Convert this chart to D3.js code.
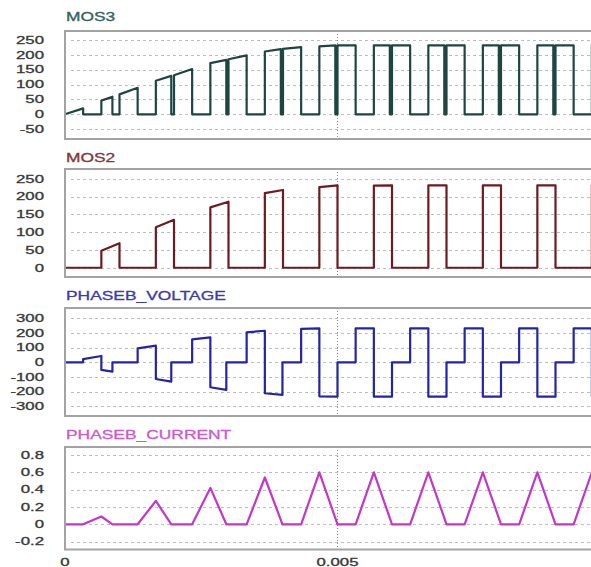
<!DOCTYPE html>
<meta charset="utf-8">
<style>
body { margin: 0; background: #fff; }
svg { display: block; }
.grid line { stroke: #bdbdbd; stroke-dasharray: 3,3; shape-rendering: crispEdges; }
.frame { fill: none; stroke: #a3a3a3; stroke-width: 2; }
.vmark { stroke: #8a8a8a; stroke-dasharray: 1,2; }
.lbl { font-family: "Liberation Sans", Arial, sans-serif; font-size: 10.5px; fill: #383838; stroke: #383838; stroke-width: 0.3; }
.title { font-family: "Liberation Sans", Arial, sans-serif; font-size: 12px; stroke-width: 0.3; }
.trace { fill: none; stroke-width: 2.2; stroke-linejoin: round; }
</style>
<svg width="591" height="567"></svg>
<script src="https://d3js.org/d3.v7.min.js"></script>
<script>

// times in ms
var mos3T = [0, 0.333, 0.333,
  0.667, 0.667, 0.87, 0.87, 1.0, 1.0, 1.333, 1.333,
  1.667, 1.667, 1.95, 1.95, 2.0, 2.0, 2.333, 2.333,
  2.667, 2.667, 2.96, 2.96, 3.0, 3.0, 3.333, 3.333,
  3.667, 3.667, 3.96, 3.96, 4.0, 4.0, 4.333, 4.333,
  4.667, 4.667, 4.96, 4.96, 5.0, 5.0, 5.333, 5.333,
  5.667, 5.667, 5.96, 5.96, 6.0, 6.0, 6.333, 6.333,
  6.667, 6.667, 6.96, 6.96, 7.0, 7.0, 7.333, 7.333,
  7.667, 7.667, 7.96, 7.96, 8.0, 8.0, 8.333, 8.333,
  8.667, 8.667, 8.96, 8.96, 9.0, 9.0, 9.333, 9.333,
  9.667, 9.667, 9.96, 9.96, 10.0, 10.0];
var mos3V = [0, 20, 0,
  0, 46, 59, 0, 0, 67, 89, 0,
  0, 113, 129, 0, 0, 131, 152, 0,
  0, 172, 183, 0, 0, 185, 198, 0,
  0, 211, 219, 0, 0, 220, 226, 0,
  0, 228, 232, 0, 0, 232, 232, 0,
  0, 232, 232, 0, 0, 232, 232, 0,
  0, 232, 232, 0, 0, 232, 232, 0,
  0, 232, 232, 0, 0, 232, 232, 0,
  0, 232, 232, 0, 0, 232, 232, 0,
  0, 232, 232, 0, 0, 232];

var mos2T = [0, 0.667, 0.667, 1.0, 1.0, 1.667, 1.667, 2.0, 2.0, 2.667, 2.667, 3.0, 3.0,
  3.667, 3.667, 4.0, 4.0, 4.667, 4.667, 5.0, 5.0, 5.667, 5.667, 6.0, 6.0,
  6.667, 6.667, 7.0, 7.0, 7.667, 7.667, 8.0, 8.0, 8.667, 8.667, 9.0, 9.0, 9.667, 9.667, 10.0];
var mos2V = [0, 0, 48, 69, 0, 0, 114, 135, 0, 0, 170, 186, 0,
  0, 210, 219, 0, 0, 227, 232, 0, 0, 231, 232, 0,
  0, 232, 232, 0, 0, 232, 232, 0, 0, 232, 232, 0, 0, 232, 232];

var voltT = [0, 0.333, 0.333, 0.667, 0.667, 0.87, 0.87,
  1.333, 1.333, 1.667, 1.667, 1.95, 1.95,
  2.333, 2.333, 2.667, 2.667, 2.96, 2.96,
  3.333, 3.333, 3.667, 3.667, 3.99, 3.99,
  4.333, 4.333, 4.667, 4.667, 5.0, 5.0,
  5.333, 5.333, 5.667, 5.667, 6.0, 6.0,
  6.333, 6.333, 6.667, 6.667, 7.0, 7.0,
  7.333, 7.333, 7.667, 7.667, 8.0, 8.0,
  8.333, 8.333, 8.667, 8.667, 9.0, 9.0,
  9.333, 9.333, 9.667, 9.667, 10.0];
var voltV = [0, 0, 22, 43, -52, -64, 0,
  0, 95, 113, -114, -132, 0,
  0, 156, 170, -170, -188, 0,
  0, 204, 215, -211, -222, 0,
  0, 228, 231, -232, -234, 0,
  0, 231, 231, -234, -234, 0,
  0, 231, 231, -234, -234, 0,
  0, 231, 231, -234, -234, 0,
  0, 231, 231, -234, -234, 0,
  0, 231, 231, -234, -234];

var currT = [0, 0.333, 0.667, 0.87, 1.333, 1.667, 1.95, 2.333, 2.667, 2.96, 3.333, 3.667, 3.99,
  4.333, 4.667, 5.0, 5.333, 5.667, 6.0, 6.333, 6.667, 7.0, 7.333, 7.667, 8.0,
  8.333, 8.667, 9.0, 9.333, 9.667, 10.0];
var currV = [0, 0, 0.09, 0, 0, 0.27, 0, 0, 0.42, 0, 0, 0.54, 0,
  0, 0.6, 0, 0, 0.6, 0, 0, 0.6, 0, 0, 0.6, 0,
  0, 0.6, 0, 0, 0.6, 0];

var mos3Ticks = [250, 200, 150, 100, 50, 0, -50];
var mos2Ticks = [250, 200, 150, 100, 50, 0];
var voltTicks = [300, 200, 100, 0, -100, -200, -300];
var currTicks = [0.8, 0.6, 0.4, 0.2, 0, -0.2];
var xTicks = [0, 0.005];
var xTickLabels = ["0", "0.005"];

var panels = [
  {name: "MOS3", t: mos3T, v: mos3V, ticks: mos3Ticks, domain: [-83, 280], top: 31, bottom: 139, color: "#1d4641", tcolor: "#33635f", ty: 21},
  {name: "MOS2", t: mos2T, v: mos2V, ticks: mos2Ticks, domain: [-26, 278], top: 169, bottom: 277, color: "#6e1a20", tcolor: "#843538", ty: 162},
  {name: "PHASEB_VOLTAGE", t: voltT, v: voltV, ticks: voltTicks, domain: [-366, 370], top: 308, bottom: 416, color: "#2424a6", tcolor: "#3a3ab4", ty: 300},
  {name: "PHASEB_CURRENT", t: currT, v: currV, ticks: currTicks, domain: [-0.291, 0.892], top: 447, bottom: 549.5, color: "#c436c8", tcolor: "#cc58ce", ty: 439}
];

var svg = d3.select("svg");
var left = 65, right = 610;

var x = d3.scaleLinear().domain([0, 0.01]).range([left, right]);

panels.forEach(function(p) {
  var y = d3.scaleLinear().domain(p.domain).range([p.bottom, p.top]);
  var g = svg.append("g");

  g.append("g")
      .attr("class", "grid")
    .selectAll("line").data(p.ticks).enter().append("line")
      .attr("x1", left + 6)
      .attr("x2", right)
      .attr("y1", function(d) { return Math.round(y(d)) + 0.5; })
      .attr("y2", function(d) { return Math.round(y(d)) + 0.5; });

  g.append("line")
      .attr("class", "vmark")
      .attr("x1", x(0.005)).attr("x2", x(0.005))
      .attr("y1", p.top).attr("y2", p.bottom);

  var line = d3.line()
      .x(function(d, i) { return x(p.t[i] / 1000); })
      .y(function(d) { return y(d); });

  g.append("path")
      .attr("class", "trace")
      .attr("stroke", p.color)
      .attr("d", line(p.v));

  g.append("rect")
      .attr("class", "frame")
      .attr("x", left).attr("y", p.top)
      .attr("width", right + 20 - left).attr("height", p.bottom - p.top);

  g.selectAll(".lbl").data(p.ticks).enter().append("text")
      .attr("class", "lbl")
      .attr("text-anchor", "end")
      .attr("dy", "0.36em")
      .attr("transform", function(d) { return "translate(44," + y(d) + ") scale(1.6,1)"; })
      .text(function(d) { return String(d); });

  g.append("text")
      .attr("class", "title")
      .attr("fill", p.tcolor)
      .attr("stroke", p.tcolor)
      .attr("transform", "translate(66," + p.ty + ") scale(1.45,1)")
      .text(p.name);
});

svg.selectAll(".xlbl").data(xTicks).enter().append("text")
    .attr("class", "lbl")
    .attr("text-anchor", "middle")
    .attr("transform", function(d) { return "translate(" + x(d) + ",566) scale(1.6,1)"; })
    .text(function(d, i) { return xTickLabels[i]; });

</script>
